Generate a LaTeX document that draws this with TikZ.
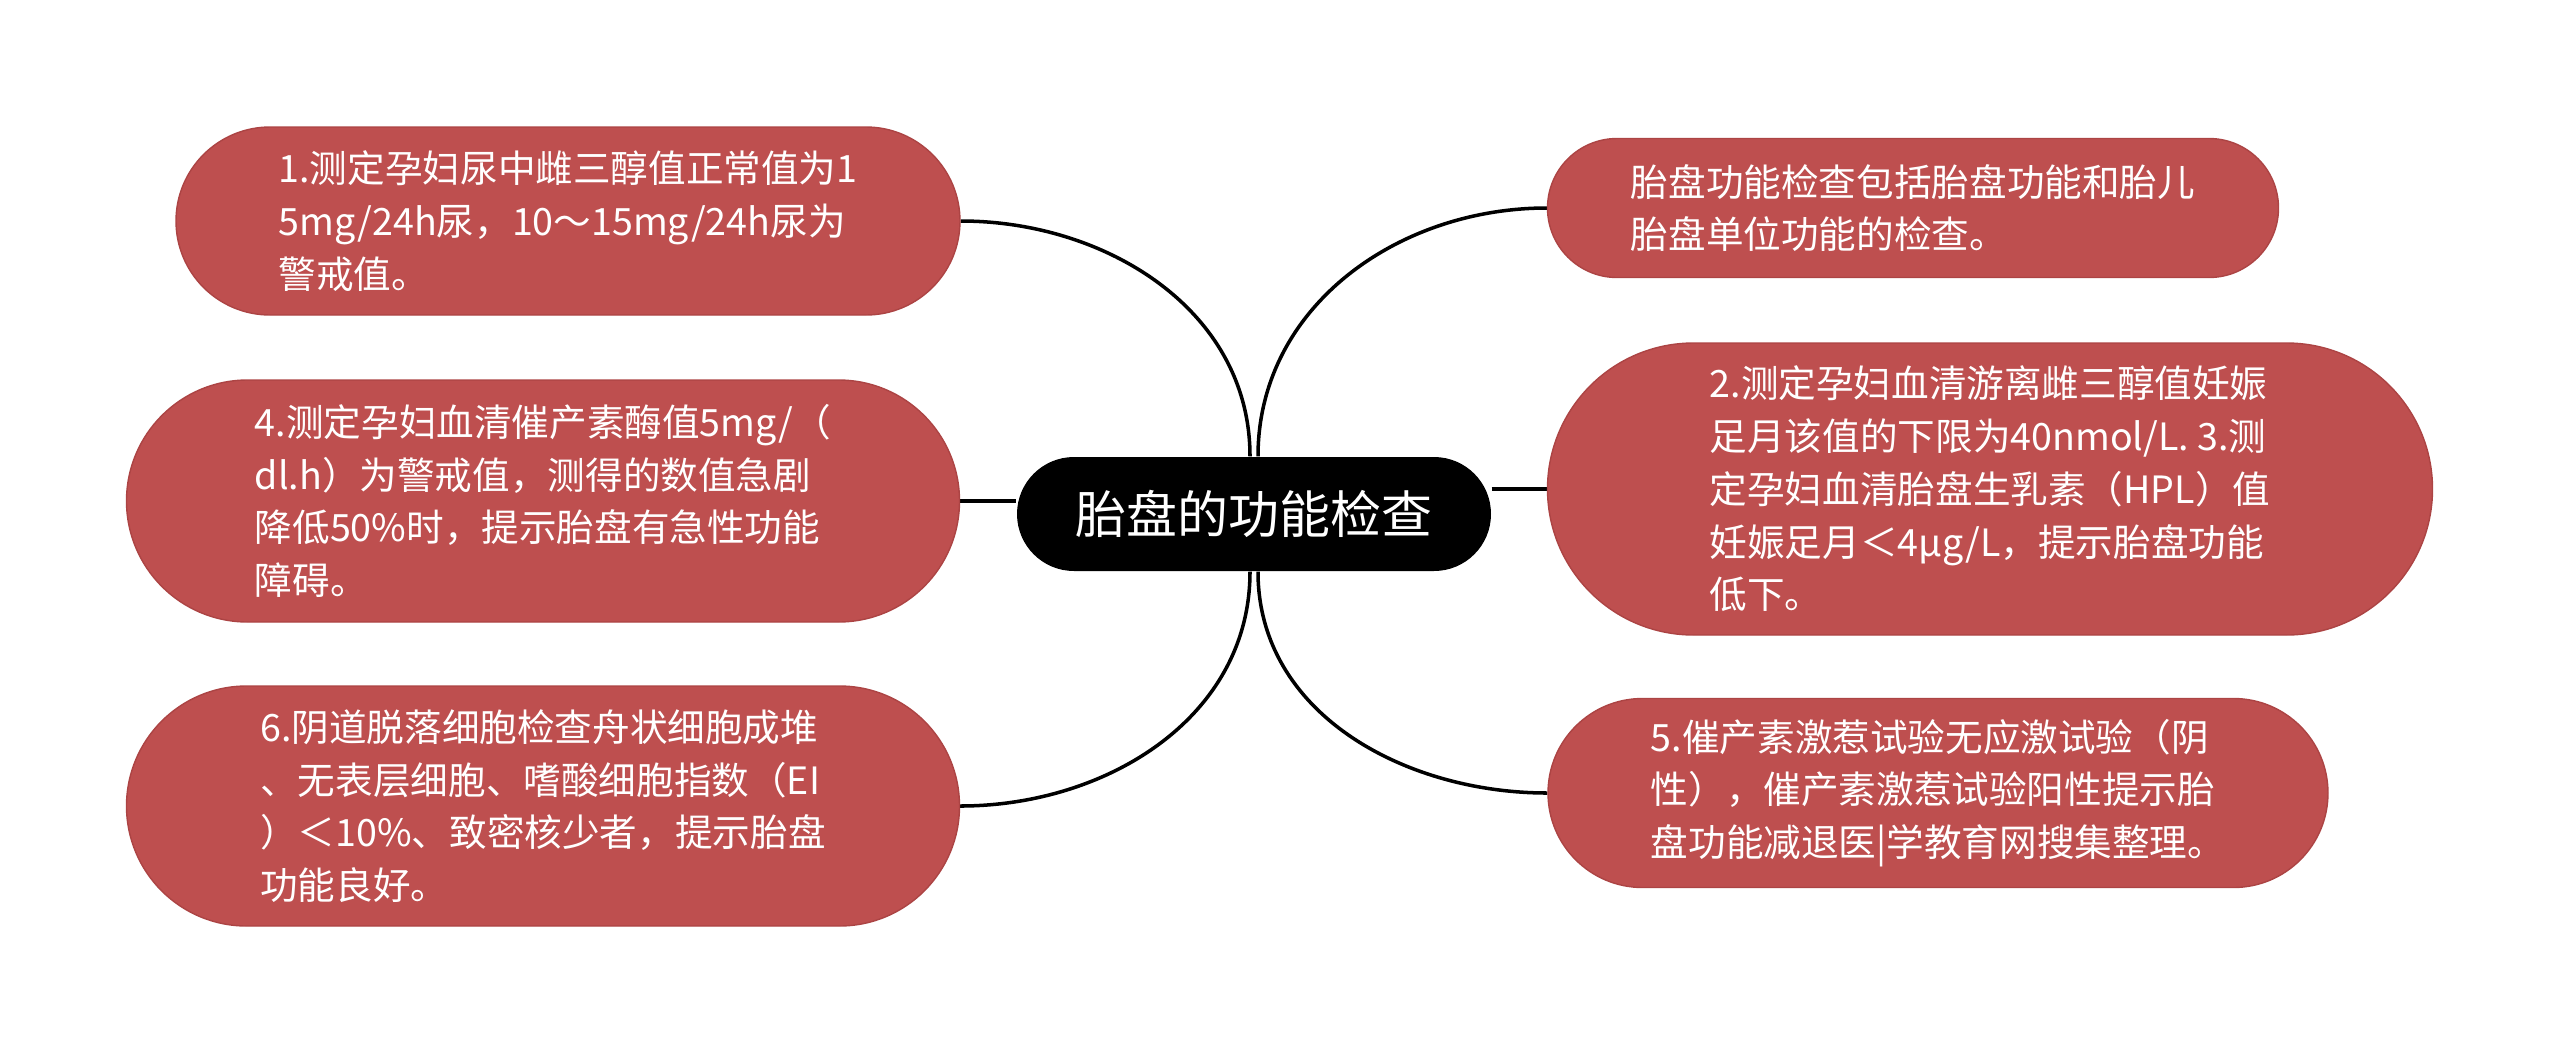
\documentclass[tikz,border=0pt]{standalone}
\usepackage{fontspec}
\setmainfont{Noto Sans CJK SC}
\usetikzlibrary{shapes.misc,backgrounds,calc}
\definecolor{leaf}{RGB}{190,79,79}
\definecolor{leafline}{RGB}{172,68,68}

\begin{document}
\begin{tikzpicture}[
    x=0.1mm, y=-0.1mm,
    topic/.style 2 args={rounded rectangle, draw=leafline, line width=0.4pt,
      fill=leaf, text=white, align=left, inner sep=0pt,
      minimum width=#1, minimum height=#2,
      font=\fontsize{10.7pt}{15pt}\selectfont},
    root/.style={rounded rectangle, fill=black, text=white, inner sep=0pt,
      minimum width=4.74cm, minimum height=1.14cm,
      font=\fontsize{14.5pt}{16pt}\selectfont},
    link/.style={line width=1pt, color=black}
  ]
    \useasboundingbox (0,0) rectangle (2560,1055);

    % Centre
    \node[root] (main) at (1254,514) {胎盘的功能检查};

    % Left branch
    \node[topic={7.84cm}{1.88cm}] (urine) at (568,221)
      {1.测定孕妇尿中雌三醇值正常值为1\\5mg/24h尿，10～15mg/24h尿为\\警戒值。};
    \node[topic={8.33cm}{2.42cm}] (enzyme) at (543,501)
      {4.测定孕妇血清催产素酶值5mg/（\\dl.h）为警戒值，测得的数值急剧\\降低50\%时，提示胎盘有急性功能\\障碍。};
    \node[topic={8.33cm}{2.40cm}] (smear) at (543,806)
      {6.阴道脱落细胞检查舟状细胞成堆\\、无表层细胞、嗜酸细胞指数（EI\\）＜10\%、致密核少者，提示胎盘\\功能良好。};

    % Right branch
    \node[topic={7.31cm}{1.39cm}] (scope) at (1913,208)
      {胎盘功能检查包括胎盘功能和胎儿\\胎盘单位功能的检查。};
    \node[topic={8.85cm}{2.92cm}] (serum) at (1990,489)
      {2.测定孕妇血清游离雌三醇值妊娠\\足月该值的下限为40nmol/L. 3.测\\定孕妇血清胎盘生乳素（HPL）值\\妊娠足月＜4μg/L，提示胎盘功能\\低下。};
    \node[topic={7.80cm}{1.89cm}] (oct) at (1938,793)
      {5.催产素激惹试验无应激试验（阴\\性），催产素激惹试验阳性提示胎\\盘功能减退医|学教育网搜集整理。};

    % Connectors
    \begin{scope}[on background layer]
      \coordinate (nl) at ($(main.north)+(-4,0)$);
      \coordinate (nr) at ($(main.north)+(4,0)$);
      \coordinate (sl) at ($(main.south)+(-4,0)$);
      \coordinate (sr) at ($(main.south)+(4,0)$);
      \draw[link] (urine.east) to[out=0,in=90] (nl);
      \draw[link] (enzyme.east) -- (enzyme.east -| main.west);
      \draw[link] (smear.east) to[out=0,in=-90] (sl);
      \draw[link] (nr) to[out=90,in=180] (scope.west);
      \draw[link] (serum.west -| main.east) -- (serum.west);
      \draw[link] (sr) to[out=-90,in=180] (oct.west);
    \end{scope}
  \end{tikzpicture}
\end{document}
